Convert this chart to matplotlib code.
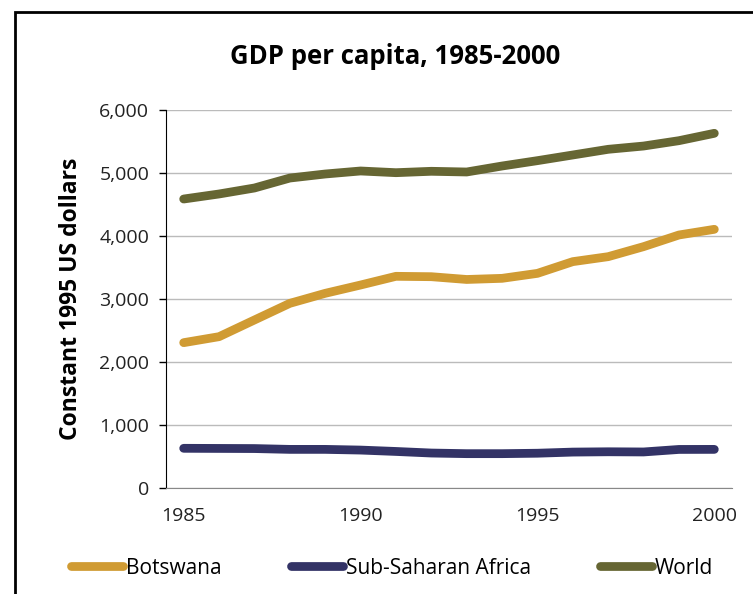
import matplotlib
matplotlib.use("Agg")
import matplotlib.pyplot as plt
from matplotlib.patches import Rectangle

plt.rcParams['font.family'] = ['Open Sans', 'DejaVu Sans']

years = list(range(1985, 2001))
botswana = [2307, 2402, 2667, 2931, 3090, 3222, 3360, 3354, 3310, 3328, 3407, 3593, 3672, 3831, 4016, 4106]
ssa = [630, 628, 626, 613, 613, 602, 580, 555, 545, 545, 552, 570, 575, 572, 612, 613]
world = [4587, 4667, 4762, 4920, 4984, 5032, 5005, 5027, 5016, 5111, 5196, 5286, 5376, 5428, 5513, 5630]

series = [
    ("Botswana", botswana, "#D09B33"),
    ("Sub-Saharan Africa", ssa, "#333366"),
    ("World", world, "#666633"),
]
yticks = [0, 1000, 2000, 3000, 4000, 5000, 6000]
xlabel_years = [1985, 1990, 1995, 2000]

fig = plt.figure(figsize=(7.53, 5.94), dpi=100)
ax = fig.add_axes([166 / 753, 1 - 488 / 594, (732 - 166) / 753, (488 - 110) / 594])

idx = list(range(len(years)))
for name, vals, color in series:
    ax.plot(idx, vals, color=color, lw=6.3, label=name,
            solid_capstyle="round", solid_joinstyle="round")

ax.set_xlim(-0.5, len(years) - 0.5)
ax.set_ylim(0, 6000)
ax.set_yticks(yticks)
ax.set_yticklabels([f"{v:,}" for v in yticks], fontsize=14, color="#222222")
ax.set_xticks([years.index(y) for y in xlabel_years])
ax.set_xticklabels([str(y) for y in xlabel_years], fontsize=14, color="#222222")
ax.tick_params(axis="x", length=0, pad=14)
ax.tick_params(axis="y", length=5, width=1, direction="out", pad=7)
ax.grid(axis="y", color="#BBBBBB", lw=1)
ax.set_axisbelow(True)

for s in ["top", "right"]:
    ax.spines[s].set_visible(False)
ax.spines["left"].set_color("black")
ax.spines["bottom"].set_color("#888888")

ax.set_ylabel("Constant 1995 US dollars", fontsize=16.5, fontweight="bold", labelpad=12)
fig.text(395 / 753, 1 - 57 / 594, "GDP per capita, 1985-2000", fontsize=18.5,
         fontweight="bold", ha="center", va="center")

fig.legend(loc="center", bbox_to_anchor=(392 / 753, 1 - 568 / 594), ncol=3,
           frameon=False, fontsize=15, handlelength=2.5, handletextpad=0.15,
           columnspacing=3.3)

fig.add_artist(Rectangle((15 / 753, -0.1), 1.2, 1.1 - 12 / 594,
                         transform=fig.transFigure, fill=False, lw=2,
                         edgecolor="black"))

fig.savefig("out.png", dpi=100)
